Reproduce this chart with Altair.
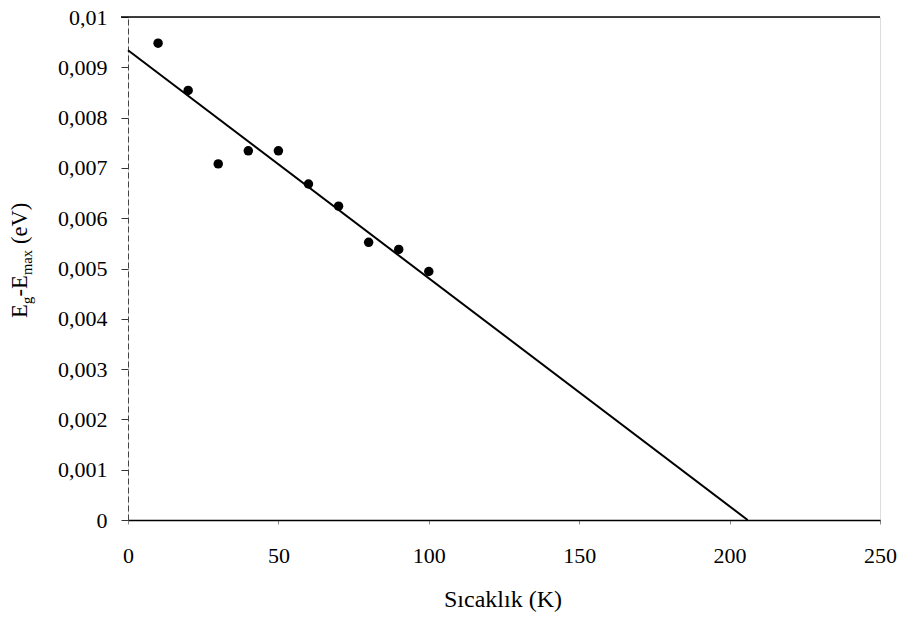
import altair as alt
import pandas as pd

# data
temps = [10, 20, 30, 40, 50, 60, 70, 80, 90, 100]
gap = [0.00948, 0.00854, 0.00708, 0.00734, 0.00734, 0.00668, 0.00624, 0.00552, 0.00538, 0.00494]
fit_x = [0, 206]
fit_y = [0.00934, 0.0]
x_ticks = [0, 50, 100, 150, 200, 250]
y_ticks = [0, 0.001, 0.002, 0.003, 0.004, 0.005, 0.006, 0.007, 0.008, 0.009, 0.01]

FONT = "'Liberation Serif', 'Times New Roman', 'DejaVu Serif', serif"
W, H = 752, 503

pts = pd.DataFrame({"T": temps, "E": gap})
fit = pd.DataFrame({"T": fit_x, "E": fit_y})

xs = alt.Scale(domain=[0, 250], nice=False, zero=False)
ys = alt.Scale(domain=[0, 0.01], nice=False, zero=False)

xaxis = alt.Axis(values=x_ticks, title=None, grid=False, labelFont=FONT, labelFontSize=22,
                 labelColor="black", tickSize=4, tickColor="#888", domainColor="black",
                 domainWidth=1.5, labelPadding=21, labelFlush=False)
yaxis = alt.Axis(values=y_ticks, title=None, grid=False, labelFont=FONT, labelFontSize=22,
                 labelColor="black", tickSize=7, tickColor="#333", domainColor="#444",
                 domainDash=[6, 3], domainWidth=1, labelPadding=14,
                 labelExpr="replace(format(datum.value, '.3~f'), '.', ',')")

line = alt.Chart(fit).mark_line(color="black", strokeWidth=2).encode(
    x=alt.X("T:Q", scale=xs, axis=xaxis),
    y=alt.Y("E:Q", scale=ys, axis=yaxis),
)
points = alt.Chart(pts).mark_point(filled=True, color="black", size=90, opacity=1).encode(
    x=alt.X("T:Q", scale=xs),
    y=alt.Y("E:Q", scale=ys),
)

top = alt.Chart(pd.DataFrame({"a": [0]})).mark_rule(color="black", strokeWidth=1.5).encode(
    x=alt.value(-7), x2=alt.value(W), y=alt.value(0)
)

one = pd.DataFrame({"a": [0]})
xtitle = alt.Chart(one).mark_text(text="Sıcaklık (K)", font=FONT, fontSize=24, color="black",
                                  align="center", baseline="alphabetic").encode(
    x=alt.value(375), y=alt.value(590))

# y title pieces with subscripts (rotated): text, font size, advance (px), subscript
pieces = [("E", 22.5, 14.0, False), ("g", 14.5, 7.5, True), ("-E", 22.5, 21.5, False),
          ("max", 14.5, 31.0, True), ("(eV)", 22.5, 40.0, False)]
ylayers = []
ypos = 301.0
for txt, fs, adv, sub in pieces:
    ylayers.append(
        alt.Chart(one).mark_text(text=txt, font=FONT, fontSize=fs, color="black", angle=270,
                                 align="left", baseline="alphabetic").encode(
            x=alt.value(-96 if sub else -101), y=alt.value(ypos))
    )
    ypos -= adv

chart = alt.layer(top, line, points, xtitle, *ylayers).properties(
    width=W, height=H,
    autosize=alt.AutoSizeParams(type="none"),
    padding={"left": 128, "top": 17, "right": 23, "bottom": 100},
).configure_view(stroke=None).configure(background="white")

chart.save("out.html", embed_options={"renderer": "svg", "actions": False})
